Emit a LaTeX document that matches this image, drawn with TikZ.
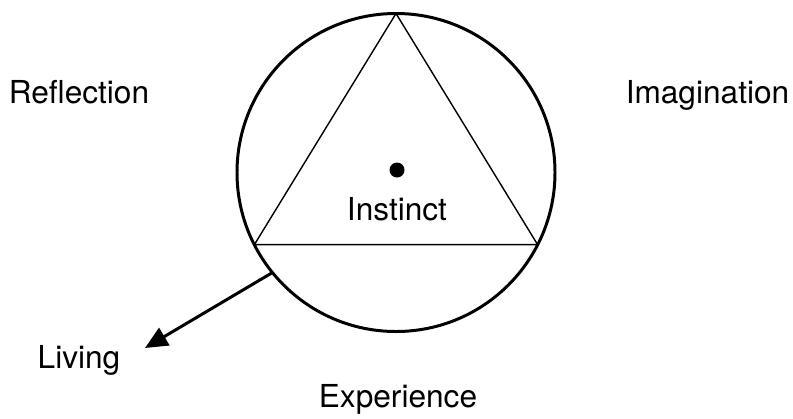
\documentclass[tikz,border=0pt]{standalone}
\usepackage{fontspec}
\setmainfont{TeX Gyre Heros}
\usepackage{tikz}
\usetikzlibrary{arrows.meta}

\begin{document}
\begin{tikzpicture}[
        ring/.style={circle, draw=black, line width=1.7pt, minimum size=6.36cm, inner sep=0pt, outer sep=0pt},
        tri/.style={draw=black, line width=0.8pt},
        dot/.style={circle, fill=black, minimum size=0.3cm, inner sep=0pt},
        lbl/.style={anchor=base, inner sep=0pt, font=\fontsize{18}{22}\selectfont}
    ]
        \useasboundingbox (-7.92,-4.91) rectangle (7.94,3.45);

        % Nodes
        \node[ring] (c) at (0, 0) {};
        \node[dot] (core) at (0.02, 0.05) {};
        \node[lbl] (inst) at (0.02, -0.95) {Instinct};
        \node[lbl] (refl) at (-6.34, 1.39) {Reflection};
        \node[lbl] (imag) at (6.23, 1.39) {Imagination};
        \node[lbl] (expe) at (0.04, -4.69) {Experience};
        \node[lbl] (liv) at (-6.34, -3.91) {Living};
        \coordinate (tip) at (-5.02, -3.51);

        % Edges
        \draw[tri] (c.90) -- (c.207.3) -- (c.-27.3) -- cycle;
        \draw[-{Triangle[length=0.45cm, width=0.4cm]}, line width=1.7pt] (c.219) -- (tip);

    \end{tikzpicture}
\end{document}
